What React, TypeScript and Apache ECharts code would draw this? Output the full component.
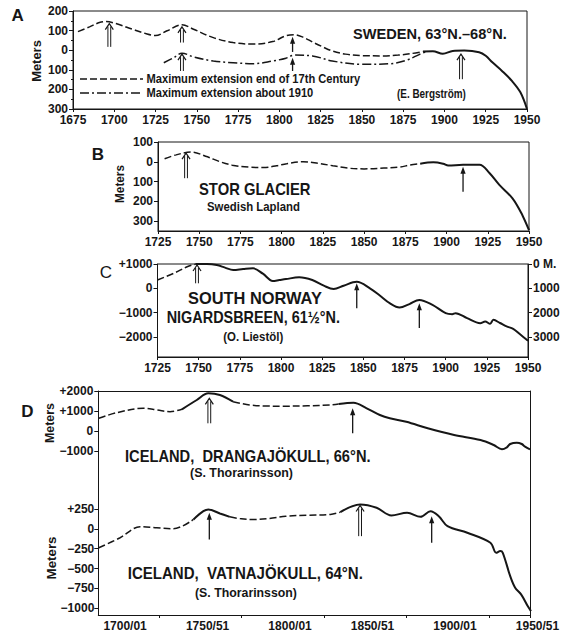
import { useEffect, useRef } from 'react';
import * as echarts from 'echarts';

type Pt = [number, number];
// [year, base value, tip value, 1 = double-shafted arrow]
type Arrow = [number, number, number, number];

const INK = '#161616';
const FONT_AXIS = '"Liberation Sans Narrow", "Liberation Sans", Arial, sans-serif';
const FONT_TEXT = '"Liberation Sans", Arial, sans-serif';

// ---------- A: Sweden ----------
const swedenYears = [1675, 1700, 1725, 1750, 1775, 1800, 1825, 1850, 1875, 1900, 1925, 1950];
const swedenMeters = [200, 100, 0, -100, -200, -300];
const swedenEnd17th: Pt[] = [
  [1678, 95], [1685, 119], [1691, 141], [1695, 146], [1701, 136], [1711, 107], [1719, 85],
  [1725, 75], [1732, 99], [1741, 130], [1748, 107], [1760, 64], [1772, 39], [1784, 31],
  [1796, 44], [1804, 74], [1809, 79], [1815, 64], [1820, 42], [1826, 18], [1832, -4],
  [1840, -20], [1850, -28], [1862, -29], [1872, -25], [1880, -17], [1887, -7],
];
const sweden1910: Pt[] = [
  [1730, -64], [1736, -38], [1741, -15], [1748, -34], [1760, -55], [1772, -64], [1784, -69],
  [1796, -55], [1804, -41], [1809, -25], [1820, -29], [1832, -55], [1850, -72], [1867, -69],
  [1877, -51], [1885, -21], [1889, -8],
];
const swedenObserved: Pt[] = [
  [1887, -7], [1893, -5], [1899, -18], [1905, -4], [1912, -2], [1921, -10], [1925, -28],
  [1929, -62], [1935, -107], [1941, -158], [1946, -215], [1950, -300],
];
const swedenArrows: Arrow[] = [
  [1697, 17, 136, 1], [1741, 39, 119, 1], [1741, -106, -20, 1],
  [1808, -9, 68, 0], [1808, -106, -38, 0], [1910, -148, -20, 1],
];

// ---------- B: Stor Glacier ----------
const storYears = [1725, 1750, 1775, 1800, 1825, 1850, 1875, 1900, 1925, 1950];
const storMeters = [100, 0, -100, -200, -300];
const storReconstructed: Pt[] = [
  [1729, 15], [1736, 35], [1745, 49], [1755, 25], [1762, 2], [1770, -17], [1780, -27],
  [1789, -29], [1797, -20], [1803, -10], [1813, 0], [1822, -8], [1831, -20], [1840, -32],
  [1850, -36], [1862, -32], [1872, -26], [1878, -16], [1884, -10],
];
const storObserved: Pt[] = [
  [1884, -10], [1892, -3], [1898, -10], [1901, -19], [1910, -15], [1920, -15], [1926, -57],
  [1932, -117], [1940, -185], [1946, -270], [1950, -345],
];
const storArrows: Arrow[] = [[1742, -83, 44, 1], [1910, -152, -25, 0]];

// ---------- C: Nigardsbreen ----------
const norwayYears = [1725, 1750, 1775, 1800, 1825, 1850, 1875, 1900, 1925, 1950];
const norwayLeftTicks = [1000, 0, -1000, -2000];
const norwayRightTicks = [0, 1000, 2000, 3000];
const norwayReconstructed: Pt[] = [[1725, 340], [1735, 620], [1743, 885], [1748, 995]];
const norwayObserved: Pt[] = [
  [1748, 995], [1755, 995], [1761, 955], [1766, 850], [1771, 750], [1777, 790], [1783, 820],
  [1789, 600], [1795, 300], [1799, 340], [1803, 380], [1811, 450], [1819, 340], [1826, 107],
  [1832, -30], [1838, 107], [1846, 270], [1854, 0], [1860, -300], [1866, -615], [1872, -795],
  [1878, -650], [1884, -480], [1892, -685], [1900, -1025], [1904, -1065], [1906, -1025],
  [1913, -1230], [1921, -1435], [1924, -1370], [1927, -1460], [1929, -1300], [1933, -1430],
  [1937, -1570], [1941, -1670], [1945, -1885], [1950, -2160],
];
const norwayArrows: Arrow[] = [[1749, 205, 960, 1], [1846, -820, 205, 0], [1884, -1640, -615, 0]];

// ---------- D: Iceland ----------
const icelandLabelYears = [1700, 1750, 1800, 1850, 1900, 1950];
const icelandTickYears = [1725, 1775, 1825, 1875, 1925, 1950];
const drangTicks = [2000, 1000, 0, -1000];
const vatnaTicks = [250, 0, -250, -500, -750, -1000];

const drangEarly: Pt[] = [[1688.6, 635], [1699.5, 915], [1715.6, 1135], [1724, 1050], [1731.8, 965], [1739, 1085]];
const drangRise: Pt[] = [[1739, 1085], [1748, 1550], [1755, 1885], [1762, 1800], [1770, 1465]];
const drangGap: Pt[] = [[1770, 1465], [1780, 1300], [1790, 1250], [1800, 1240], [1815, 1260], [1829, 1300], [1834, 1350]];
const drangObserved: Pt[] = [
  [1834, 1350], [1843, 1415], [1851, 1135], [1859, 800], [1865, 635], [1875, 465], [1888, 135],
  [1904, -200], [1920, -450], [1928, -700], [1933, -915], [1936, -815], [1938, -650],
  [1942, -585], [1945, -650], [1947, -785], [1950, -915],
];
const drangArrows: Arrow[] = [[1755.6, 385, 1635, 1], [1842.5, -115, 1135, 0]];

const vatnaEarly: Pt[] = [[1688.6, -239], [1701.5, -113], [1713.6, 25], [1723.7, 12], [1733.8, 0], [1746, 117]];
const vatnaRise: Pt[] = [[1746, 117], [1752, 221], [1755, 243], [1762, 192], [1768, 150]];
const vatnaGap: Pt[] = [[1768, 150], [1775, 125], [1782, 117], [1792, 130], [1802, 158], [1815, 170], [1829, 180], [1835, 209]];
const vatnaObserved: Pt[] = [
  [1835, 209], [1847, 306], [1857, 264], [1866, 167], [1875.5, 201], [1883.6, 151], [1889.7, 221],
  [1894.7, 158], [1900, 33], [1912, -50], [1926, -176], [1929.5, -302], [1932, -281],
  [1933.5, -302], [1938, -596], [1941, -742], [1944.6, -826], [1948.6, -973], [1950.6, -1036],
];
const vatnaArrows: Arrow[] = [[1755.6, -135, 201, 0], [1847, -93, 293, 1], [1890.4, -176, 158, 0]];

// ---------- helpers ----------
const lineStyle = { color: INK, width: 1 };
const axisText = { fontFamily: FONT_AXIS, fontWeight: 'bold' as const, fontSize: 12, color: INK };
const DASH = [7, 3];
const DASH_DOT = [9, 3, 2, 3];

const signed = (v: number) => (v > 0 ? `+${v}` : v < 0 ? `\u2212${-v}` : '0');

let measureCtx: CanvasRenderingContext2D | null = null;
function fitScale(text: string, font: string, width: number) {
  if (!measureCtx) measureCtx = document.createElement('canvas').getContext('2d');
  if (!measureCtx) return 1;
  measureCtx.font = font;
  const w = measureCtx.measureText(text).width;
  return w > 0 ? width / w : 1;
}

function label(text: string, x: number, y: number, size: number, width: number, bold: boolean, vertical = false) {
  const font = `${bold ? 'bold ' : ''}${size}px ${FONT_TEXT}`;
  return {
    type: 'text', x, y, silent: true, z: 20,
    rotation: vertical ? Math.PI / 2 : 0,
    scaleX: fitScale(text, font, width),
    style: { text, font, fill: INK, textAlign: vertical ? 'center' : 'left', textVerticalAlign: 'middle' },
  };
}

function letter(text: string, x: number, y: number, bold = true) {
  return {
    type: 'text', x, y, silent: true, z: 20,
    style: { text, font: `${bold ? 'bold ' : ''}17px ${FONT_TEXT}`, fill: INK, textAlign: 'center', textVerticalAlign: 'middle' },
  };
}

function yearAxis(gridIndex: number, min: number, max: number, ticks: number[], labels: number[], fmt: (v: number) => string, pad = 0) {
  return {
    type: 'value', gridIndex, min, max, position: 'bottom',
    axisLine: { show: true, onZero: false, lineStyle },
    axisTick: { show: true, length: 3, customValues: ticks, lineStyle },
    axisLabel: {
      ...axisText, margin: 5, lineHeight: 12, customValues: labels, formatter: fmt,
      padding: [0, 0, 0, pad], showMinLabel: true, showMaxLabel: true,
    },
    splitLine: { show: false },
  };
}

function meterAxis(gridIndex: number, min: number, max: number, ticks: number[], fmt: (v: number) => string, extra: any = {}, margin = 5) {
  return {
    type: 'value', gridIndex, min, max, position: 'left',
    axisLine: { show: true, onZero: false, lineStyle },
    axisTick: { show: true, length: 4, customValues: ticks, lineStyle },
    axisLabel: { ...axisText, margin, lineHeight: 9, customValues: ticks, formatter: fmt, showMinLabel: true, showMaxLabel: true },
    splitLine: { show: false },
    ...extra,
  };
}

function frameAxis(gridIndex: number, position: 'right' | 'top', min: number, max: number) {
  return {
    type: 'value', gridIndex, min, max, position,
    axisLine: { show: true, onZero: false, lineStyle },
    axisTick: { show: false }, axisLabel: { show: false }, splitLine: { show: false },
  };
}

function curve(data: Pt[], axis: number, yAxis: number, kind: 'solid' | 'dash' | 'dashdot') {
  return {
    type: 'line', data, xAxisIndex: axis, yAxisIndex: yAxis,
    showSymbol: false, symbol: 'none', smooth: 0.35, silent: true, z: 3,
    lineStyle: {
      color: INK,
      width: kind === 'solid' ? 2 : 1.5,
      type: kind === 'solid' ? 'solid' : kind === 'dash' ? DASH : DASH_DOT,
    },
  };
}

function drawArrow(_params: any, api: any) {
  const year = api.value(0);
  const base = api.coord([year, api.value(1)]);
  const tip = api.coord([year, api.value(2)]);
  const x = base[0];
  const ty = tip[1];
  const stroke = { stroke: INK, lineWidth: 1, fill: 'none' };
  if (api.value(3) === 1) {
    return {
      type: 'group',
      children: [
        { type: 'line', shape: { x1: x - 1.4, y1: base[1], x2: x - 1.4, y2: ty + 3 }, style: stroke },
        { type: 'line', shape: { x1: x + 1.4, y1: base[1], x2: x + 1.4, y2: ty + 3 }, style: stroke },
        { type: 'polyline', shape: { points: [[x - 4, ty + 6], [x, ty], [x + 4, ty + 6]] }, style: { ...stroke, lineWidth: 1.2 } },
      ],
    };
  }
  return {
    type: 'group',
    children: [
      { type: 'line', shape: { x1: x, y1: base[1], x2: x, y2: ty + 3 }, style: { ...stroke, lineWidth: 1.3 } },
      { type: 'polygon', shape: { points: [[x - 2.6, ty + 7], [x, ty], [x + 2.6, ty + 7]] }, style: { fill: INK, stroke: 'none' } },
    ],
  };
}

function arrows(data: Arrow[], xAxisIndex: number, yAxisIndex: number) {
  return {
    type: 'custom', data, xAxisIndex, yAxisIndex, renderItem: drawArrow,
    encode: { x: 0, y: [1, 2] }, silent: true, clip: false, z: 4,
  };
}

function buildOption() {
  const boxed = { show: true, borderColor: INK, borderWidth: 1, backgroundColor: 'transparent', containLabel: false };
  const iceLabel = (v: number) => `${v}/${String((v + 1) % 100).padStart(2, '0')}`;
  return {
    animation: false,
    backgroundColor: '#ffffff',
    grid: [
      { ...boxed, left: 73, top: 11, width: 454, height: 98 },
      { ...boxed, left: 158, top: 142, width: 371, height: 89 },
      { ...boxed, left: 157.5, top: 264, width: 370.5, height: 93 },
      { show: false, left: 98.3, top: 391, width: 431.7, height: 100, containLabel: false },
      { show: false, left: 98.3, top: 491, width: 431.7, height: 124, containLabel: false },
    ],
    xAxis: [
      yearAxis(0, 1675, 1950, swedenYears, swedenYears, (v) => String(v)),
      yearAxis(1, 1725, 1950, storYears, storYears, (v) => String(v)),
      yearAxis(2, 1725, 1950, norwayYears, norwayYears, (v) => String(v)),
      frameAxis(3, 'top', 1688.3, 1950),
      yearAxis(4, 1688.3, 1950, icelandTickYears, icelandLabelYears, iceLabel, 15),
    ],
    yAxis: [
      meterAxis(0, -300, 200, swedenMeters, (v) => String(Math.abs(v)), { minorTick: { show: true, splitNumber: 2, length: 2, lineStyle } }),
      meterAxis(1, -350, 100, storMeters, (v) => String(Math.abs(v))),
      meterAxis(2, -2830, 1000, norwayLeftTicks, signed),
      meterAxis(2, 0, 3830, norwayRightTicks, (v) => (v === 0 ? '0 M.' : String(v)), { position: 'right', inverse: true }),
      meterAxis(3, -3000, 2000, drangTicks, signed),
      frameAxis(3, 'right', -3000, 2000),
      meterAxis(4, -1085, 475, vatnaTicks, signed, {}, 4),
      frameAxis(4, 'right', -1085, 475),
    ],
    series: [
      curve(swedenEnd17th, 0, 0, 'dash'),
      curve(sweden1910, 0, 0, 'dashdot'),
      curve(swedenObserved, 0, 0, 'solid'),
      arrows(swedenArrows, 0, 0),

      curve(storReconstructed, 1, 1, 'dash'),
      curve(storObserved, 1, 1, 'solid'),
      arrows(storArrows, 1, 1),

      curve(norwayReconstructed, 2, 2, 'dash'),
      curve(norwayObserved, 2, 2, 'solid'),
      arrows(norwayArrows, 2, 2),

      curve(drangEarly, 3, 4, 'dash'),
      curve(drangRise, 3, 4, 'solid'),
      curve(drangGap, 3, 4, 'dash'),
      curve(drangObserved, 3, 4, 'solid'),
      arrows(drangArrows, 3, 4),

      curve(vatnaEarly, 4, 6, 'dash'),
      curve(vatnaRise, 4, 6, 'solid'),
      curve(vatnaGap, 4, 6, 'dash'),
      curve(vatnaObserved, 4, 6, 'solid'),
      arrows(vatnaArrows, 4, 6),
    ],
    graphic: [
      letter('A', 17.7, 15),
      letter('B', 98, 154),
      letter('C', 106, 272, false),
      letter('D', 27.5, 411),
      label('Meters', 36.7, 61, 12.5, 41.7, true, true),
      label('Meters', 120, 184, 12.5, 38, true, true),
      label('Meters', 50, 423, 12.5, 40, true, true),
      label('Meters', 51.7, 558, 12.5, 43, true, true),

      label('SWEDEN, 63°N.\u201368°N.', 353, 33.5, 15, 154, true),
      label('(E. Bergström)', 397, 93.5, 12, 69, true),
      { type: 'line', silent: true, z: 20, shape: { x1: 80, y1: 79, x2: 143, y2: 79 }, style: { stroke: INK, lineWidth: 1.3, lineDash: DASH } },
      { type: 'line', silent: true, z: 20, shape: { x1: 80, y1: 93, x2: 143, y2: 93 }, style: { stroke: INK, lineWidth: 1.3, lineDash: DASH_DOT } },
      label('Maximum extension end of 17th Century', 146.5, 78.5, 12.5, 214, true),
      label('Maximum extension about 1910', 146.5, 92.7, 12.5, 167, true),

      label('STOR GLACIER', 199, 189.3, 16, 111.5, true),
      label('Swedish Lapland', 207, 206, 12, 93, true),

      label('SOUTH NORWAY', 188, 297.7, 16, 134, true),
      label('NIGARDSBREEN, 61½°N.', 166.7, 317.3, 16, 173.3, true),
      label('(O. Liestöl)', 223.3, 336.7, 12, 60, true),

      label('ICELAND,  DRANGAJÖKULL, 66°N.', 125, 456.7, 16, 245.7, true),
      label('(S. Thorarinsson)', 190, 473.3, 12, 103, true),
      label('ICELAND,  VATNAJÖKULL, 64°N.', 127.7, 573.3, 16, 235.6, true),
      label('(S. Thorarinsson)', 195, 592.7, 12, 102, true),
    ],
  };
}

export default function App() {
  const ref = useRef<HTMLDivElement>(null);
  useEffect(() => {
    if (!ref.current) return;
    const chart = echarts.init(ref.current, undefined, { renderer: 'svg' });
    chart.setOption(buildOption() as any);
    return () => chart.dispose();
  }, []);
  return (
    <div
      ref={ref}
      style={{ position: 'fixed', left: 0, top: 0, width: 570, height: 642, background: '#ffffff' }}
    />
  );
}
